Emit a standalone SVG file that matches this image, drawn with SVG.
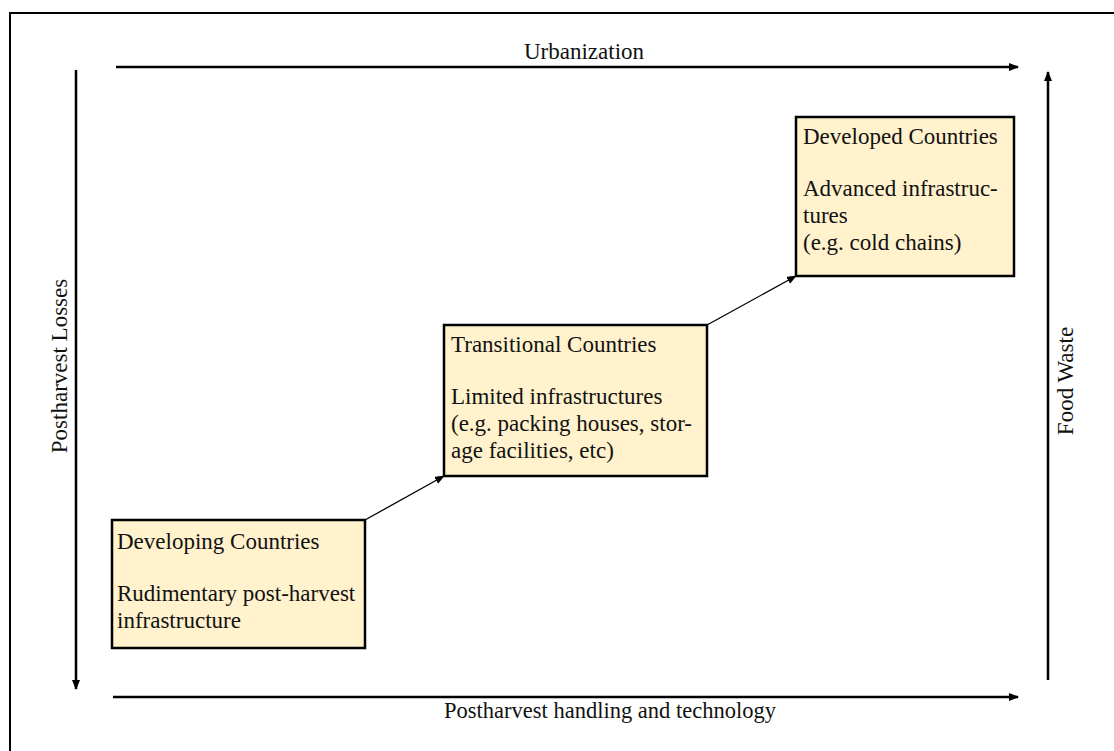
<svg xmlns="http://www.w3.org/2000/svg" width="1114" height="751" viewBox="0 0 1114 751">
<style>
text{font-family:"Liberation Serif","Times New Roman",serif;font-size:23px;fill:#111}
.box{fill:#FFF2CC;stroke:#000;stroke-width:2.5}
.axis{stroke:#000;stroke-width:2.5;fill:none}
.conn{stroke:#000;stroke-width:1.3;fill:none}
</style>
<defs>
<marker id="ah" markerWidth="10" markerHeight="8" refX="9" refY="4" orient="auto" markerUnits="userSpaceOnUse"><path d="M0,0 L10,4 L0,8 Z" fill="#000"/></marker>
<marker id="ahs" markerWidth="10" markerHeight="8" refX="9" refY="4" orient="auto" markerUnits="userSpaceOnUse"><path d="M0,0 L10,4 L0,8 Z" fill="#000"/></marker>
</defs>
<rect width="1114" height="751" fill="#fff"/>
<path d="M10,751 V13 H1114" stroke="#000" stroke-width="2" fill="none"/>
<g id="axes">
<line class="axis" x1="116" y1="67" x2="1018" y2="67" marker-end="url(#ah)"/>
<line class="axis" x1="113" y1="697" x2="1018" y2="697" marker-end="url(#ah)"/>
<line class="axis" x1="76" y1="70" x2="76" y2="689" marker-end="url(#ah)"/>
<line class="axis" x1="1048" y1="680" x2="1048" y2="72" marker-end="url(#ah)"/>
<text x="584" y="59" text-anchor="middle">Urbanization</text>
<text x="610" y="718" text-anchor="middle" style="font-size:22.5px">Postharvest handling and technology</text>
<text transform="translate(67,366) rotate(-90)" text-anchor="middle">Postharvest Losses</text>
<text transform="translate(1073,381) rotate(-90)" text-anchor="middle">Food Waste</text>
</g>
<g id="connectors">
<line class="conn" x1="365" y1="520" x2="444" y2="476" marker-end="url(#ahs)"/>
<line class="conn" x1="707" y1="325" x2="796" y2="276" marker-end="url(#ahs)"/>
</g>
<g id="developing">
<rect class="box" x="112" y="520" width="253" height="128"/>
<text x="117" y="549">Developing Countries</text>
<text x="117" y="601">Rudimentary post-harvest</text>
<text x="117" y="628">infrastructure</text>
</g>
<g id="transitional">
<rect class="box" x="444" y="325" width="263" height="151"/>
<text x="451" y="352">Transitional Countries</text>
<text x="451" y="404">Limited infrastructures</text>
<text x="451" y="431">(e.g. packing houses, stor-</text>
<text x="451" y="458">age facilities, etc)</text>
</g>
<g id="developed">
<rect class="box" x="796" y="117" width="218" height="159"/>
<text x="803" y="144">Developed Countries</text>
<text x="803" y="196">Advanced infrastruc-</text>
<text x="803" y="223">tures</text>
<text x="803" y="250">(e.g. cold chains)</text>
</g>
</svg>
